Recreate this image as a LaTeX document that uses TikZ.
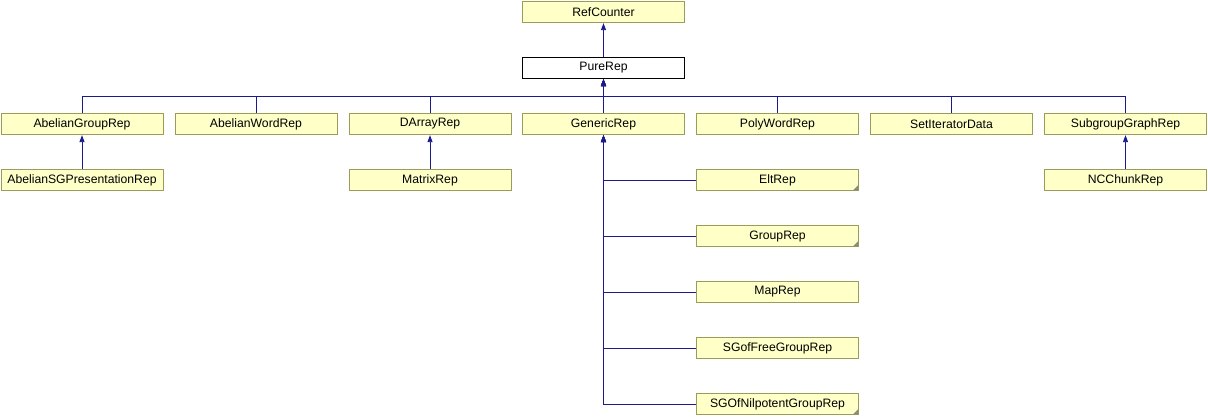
\documentclass[tikz,border=0pt]{standalone}
\usepackage{fontspec}
\setmainfont{Liberation Sans}
\usetikzlibrary{arrows.meta}
\definecolor{boxfill}{HTML}{FFFFC8}
\definecolor{boxline}{HTML}{9C9C5A}
\definecolor{edgecol}{HTML}{1A1A8C}
\definecolor{foldcol}{HTML}{8C8C70}
\tikzset{
  cls/.style={draw=boxline, fill=boxfill, line width=0.8pt, minimum width=162pt, minimum height=21.5pt,
    inner sep=0pt, font=\fontsize{12.2}{14}\selectfont},
  curcls/.style={cls, draw=black, fill=white},
  edge/.style={draw=edgecol, line width=0.9pt, -{Triangle[length=7pt,width=5pt]}},
  fold/.style={fill=foldcol}
}
\begin{document}
\begin{tikzpicture}[x=1pt,y=-1pt]
\useasboundingbox (0,0) rectangle (1208,416);
\node[cls] (RefCounter) at (603.5,12) {RefCounter};
\node[curcls] (PureRep) at (603.5,68) {PureRep};
\node[cls] (AbelianGroupRep) at (82,124) {AbelianGroupRep};
\node[cls] (AbelianWordRep) at (256,124) {AbelianWordRep};
\node[cls] (DArrayRep) at (430,124) {DArrayRep};
\node[cls] (GenericRep) at (603.5,124) {GenericRep};
\node[cls] (PolyWordRep) at (777.5,124) {PolyWordRep};
\node[cls] (SetIteratorData) at (951.5,124) {SetIteratorData};
\node[cls] (SubgroupGraphRep) at (1125.5,124) {SubgroupGraphRep};
\node[cls] (AbelianSGPresentationRep) at (82,180) {AbelianSGPresentationRep};
\node[cls] (MatrixRep) at (430,180) {MatrixRep};
\node[cls] (EltRep) at (777.5,180) {EltRep};
\node[cls] (NCChunkRep) at (1125.5,180) {NCChunkRep};
\node[cls] (GroupRep) at (777.5,236) {GroupRep};
\node[cls] (MapRep) at (777.5,292) {MapRep};
\node[cls] (SGofFreeGroupRep) at (777.5,348) {SGofFreeGroupRep};
\node[cls] (SGOfNilpotentGroupRep) at (777.5,404) {SGOfNilpotentGroupRep};
\foreach \n in {EltRep,GroupRep,SGOfNilpotentGroupRep}{
  \fill[fold] ([shift={(-6pt,0.7pt)}]\n.south east) -- ([shift={(-0.7pt,0.7pt)}]\n.south east) -- ([shift={(-0.7pt,6pt)}]\n.south east) -- cycle;
}
\coordinate (bus) at (603.5,96);
\draw[edge] (PureRep.north) -- (RefCounter.south);
\foreach \c in {AbelianGroupRep,AbelianWordRep,DArrayRep,GenericRep,PolyWordRep,SetIteratorData,SubgroupGraphRep}{
  \draw[edge] (\c.north) |- (bus) -- (PureRep.south);
}
\draw[edge] (AbelianSGPresentationRep.north) -- (AbelianGroupRep.south);
\draw[edge] (MatrixRep.north) -- (DArrayRep.south);
\draw[edge] (NCChunkRep.north) -- (SubgroupGraphRep.south);
\foreach \c in {EltRep,GroupRep,MapRep,SGofFreeGroupRep,SGOfNilpotentGroupRep}{
  \draw[edge] (\c.west) -| (GenericRep.south);
}
\end{tikzpicture}
\end{document}
